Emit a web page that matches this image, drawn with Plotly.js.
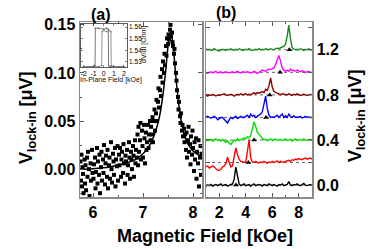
<!DOCTYPE html>
<html><head><meta charset="utf-8">
<script src="https://cdn.plot.ly/plotly-3.0.1.min.js"></script>
<style>html,body{margin:0;padding:0;background:#fff}#c{width:382px;height:249px}</style>
</head><body><div id="c"></div>
<script>
// ---------- Panel (a): scatter data ----------
const fieldX = [
5.75,5.76,5.77,5.78,5.79,5.80,5.81,5.83,5.84,5.85,5.86,5.88,5.89,5.90,5.92,5.93,5.95,5.96,5.98,5.99,
6.01,6.02,6.04,6.05,6.06,6.08,6.09,6.10,6.12,6.13,6.14,6.16,6.17,6.18,6.20,6.21,6.22,6.24,6.25,6.26,
6.28,6.29,6.30,6.32,6.33,6.34,6.36,6.37,6.38,6.40,6.41,6.42,6.44,6.45,6.46,6.48,6.49,
6.50,6.52,6.53,6.54,6.56,6.57,6.58,6.60,6.61,6.62,6.64,6.65,6.66,6.68,6.69,6.70,6.72,6.73,6.74,6.76,
6.77,6.78,6.80,6.81,6.82,6.84,6.85,6.86,6.88,6.89,
6.90,6.91,6.92,6.94,6.95,6.96,6.98,6.99,7.00,7.02,7.03,7.04,7.06,7.07,7.08,7.10,7.11,7.12,7.14,
7.15,7.16,7.18,7.19,7.20,7.22,7.23,7.24,7.26,7.27,7.28,7.30,7.31,7.32,7.34,7.35,7.36,7.38,7.39,7.40,7.42,7.43,7.44,
7.46,7.47,7.48,7.50,7.51,7.52,7.54,7.55,7.56,7.58,7.59,7.60,7.62,7.63,7.64,
7.66,7.67,7.68,7.70,7.71,7.72,7.74,7.75,7.76,7.78,7.79,7.80,7.82,7.83,7.84,
7.86,7.87,7.88,7.90,7.91,7.92,7.94,7.95,7.96,7.98,7.99,8.00,8.02,8.03,8.04,8.06,8.07,8.08,8.10,8.11,8.12,8.14,8.15,8.16,8.17];
const signalY = [
0.008,-0.012,0.015,-0.018,0.002,-0.005,-0.025,0.010,-0.015,0.004,-0.022,0.012,-0.008,0.018,0.000,-0.028,0.006,-0.012,0.020,-0.004,
-0.010,0.005,0.012,-0.020,-0.003,0.022,-0.015,0.008,-0.006,0.015,-0.025,0.002,0.018,-0.012,0.010,-0.004,0.025,-0.016,0.006,0.014,
-0.008,0.020,-0.020,0.004,0.012,-0.010,0.028,0.000,-0.014,0.016,0.008,-0.006,0.022,-0.018,0.010,0.003,0.024,
-0.012,0.015,0.004,0.022,-0.008,0.010,0.018,-0.004,0.026,0.006,-0.015,0.014,0.008,0.020,-0.006,0.004,0.028,0.012,-0.010,0.018,
0.010,0.000,0.024,0.014,-0.008,0.030,0.006,0.020,0.012,0.036,
0.004,0.044,0.018,0.030,0.048,0.010,0.040,0.024,0.012,0.046,0.032,0.006,0.038,0.020,0.028,0.046,0.022,0.036,0.050,
0.030,0.044,0.036,0.054,0.028,0.050,0.062,0.040,0.058,0.072,0.050,0.070,0.084,0.064,0.082,0.096,0.076,0.104,0.090,0.112,0.100,0.120,0.108,
0.128,0.118,0.136,0.130,0.140,0.135,0.145,0.150,0.138,0.142,0.132,0.128,0.120,0.125,0.110,
0.100,0.092,0.082,0.075,0.062,0.070,0.055,0.048,0.058,0.040,0.046,0.034,0.042,0.028,0.036,
0.020,0.038,0.012,0.030,0.044,0.018,0.026,0.005,0.034,0.015,0.040,0.022,-0.002,0.028,0.010,0.032,-0.010,0.018,0.006,0.030,-0.018,0.012,0.024,-0.006,0.016];
const fitX = [5.74,5.9,6.1,6.3,6.5,6.7,6.85,7.0,7.1,7.2,7.3,7.35,7.4,7.45,7.5,7.55,7.6,7.65,7.7,7.75,7.8,7.85,7.9,8.0,8.1,8.18];
const fitY = [0.000,0.000,0.001,0.002,0.004,0.007,0.010,0.016,0.022,0.032,0.048,0.060,0.078,0.100,0.128,0.143,0.130,0.100,0.074,0.054,0.041,0.032,0.026,0.019,0.015,0.013];

// ---------- Inset: hysteresis ----------
const loop1X = [-2,-1.5,-1.0,-0.86,-0.83,-0.5,0,0.3,0.45,0.48,0.6,1.0,1.5,2.0];
const loop1Y = [1.526,1.526,1.526,1.527,1.559,1.559,1.558,1.559,1.558,1.527,1.526,1.526,1.526,1.526];
const loop2X = [-2,-1.5,-1,-0.5,-0.2,-0.17,0.0,0.3,0.6,0.71,0.74,1.0,1.5,2.0];
const loop2Y = [1.526,1.526,1.526,1.526,1.527,1.556,1.557,1.556,1.557,1.556,1.527,1.526,1.526,1.526];

// ---------- Panel (b): offset spectra ----------
const fieldB = [1.0,1.125,1.25,1.375,1.5,1.625,1.75,1.875,
2.0,2.125,2.25,2.375,2.5,2.625,2.75,2.875,
3.0,3.125,3.25,3.375,3.5,3.625,3.75,3.875,
4.0,4.125,4.25,4.375,4.5,4.625,4.75,4.875,
5.0,5.125,5.25,5.375,5.5,5.625,5.75,5.875,
6.0,6.125,6.25,6.375,6.5,6.625,6.75,6.875,
7.0,7.125,7.25,7.375,7.5,7.625,7.75,7.875,
8.0,8.125,8.25,8.375,8.5,8.625,8.75,8.875,9.0];
const specBlack = [-0.01,0.0,-0.005,0.005,-0.01,0.0,0.005,-0.005,
0.0,0.01,-0.005,0.0,0.005,-0.01,0.0,0.005,
0.01,0.05,0.16,0.07,0.01,-0.005,0.0,0.01,
-0.005,0.0,0.005,-0.01,0.0,0.01,-0.005,0.0,
0.005,0.0,-0.01,0.005,0.0,-0.005,0.01,0.0,
-0.005,0.005,0.0,-0.01,0.005,0.0,0.01,-0.005,
0.0,0.005,0.03,0.0,-0.005,0.005,0.0,0.01,
0.0,-0.005,0.005,0.015,0.0,-0.005,0.0,0.005,-0.005];
const specRed = [0.16,0.17,0.15,0.16,0.17,0.16,0.14,0.13,
0.13,0.14,0.16,0.17,0.19,0.25,0.2,0.16,
0.17,0.24,0.33,0.27,0.23,0.21,0.205,0.2,
0.2,0.3,0.4,0.24,0.205,0.2,0.21,0.2,
0.195,0.205,0.2,0.21,0.2,0.195,0.205,0.2,
0.21,0.2,0.205,0.215,0.2,0.21,0.205,0.2,
0.21,0.215,0.22,0.21,0.225,0.22,0.23,0.225,
0.235,0.23,0.225,0.235,0.24,0.23,0.235,0.24,0.23];
const specGreen = [0.39,0.4,0.395,0.405,0.39,0.4,0.41,0.395,
0.4,0.39,0.405,0.39,0.38,0.395,0.37,0.36,
0.38,0.4,0.39,0.41,0.395,0.4,0.41,0.42,
0.41,0.43,0.42,0.44,0.49,0.56,0.52,0.47,
0.45,0.43,0.415,0.4,0.405,0.395,0.4,0.41,
0.395,0.4,0.41,0.395,0.4,0.405,0.395,0.4,
0.41,0.395,0.4,0.405,0.39,0.4,0.41,0.395,
0.4,0.405,0.395,0.41,0.4,0.395,0.405,0.4,0.395];
const specBlue = [0.6,0.61,0.6,0.595,0.6,0.61,0.6,0.58,
0.59,0.6,0.6,0.58,0.56,0.55,0.58,0.6,
0.59,0.6,0.61,0.59,0.6,0.61,0.6,0.6,
0.61,0.62,0.6,0.63,0.61,0.62,0.6,0.61,
0.62,0.63,0.65,0.72,0.79,0.68,0.62,0.6,
0.605,0.6,0.61,0.62,0.6,0.62,0.63,0.6,
0.615,0.6,0.63,0.61,0.6,0.615,0.6,0.605,
0.6,0.61,0.595,0.6,0.61,0.6,0.605,0.6,0.6];
const specDarkRed = [0.8,0.79,0.8,0.795,0.805,0.8,0.79,0.8,
0.795,0.8,0.805,0.81,0.8,0.795,0.8,0.805,
0.8,0.79,0.8,0.805,0.8,0.81,0.8,0.805,
0.81,0.8,0.805,0.8,0.81,0.82,0.81,0.82,
0.815,0.82,0.83,0.82,0.85,0.84,0.88,0.95,
0.87,0.83,0.82,0.815,0.81,0.8,0.81,0.805,
0.805,0.8,0.81,0.8,0.795,0.805,0.8,0.81,
0.8,0.795,0.8,0.805,0.8,0.795,0.8,0.805,0.8];
const specMagenta = [1.0,0.99,1.0,1.005,0.995,1.0,1.01,0.995,
1.0,1.005,0.995,1.0,1.005,1.0,0.995,1.0,
1.005,0.995,1.0,1.01,1.0,0.995,1.005,1.0,
1.0,1.005,1.0,0.995,1.0,1.01,1.0,0.99,
1.0,1.01,1.02,1.015,1.01,1.02,1.03,1.025,
1.03,1.04,1.07,1.12,1.15,1.1,1.04,1.02,
1.01,1.02,1.01,1.03,1.015,1.02,1.01,1.02,
1.01,1.005,1.015,1.01,1.0,1.005,1.01,1.0,1.0];
const specDarkGreen = [1.21,1.2,1.205,1.195,1.2,1.21,1.2,1.195,
1.19,1.2,1.205,1.2,1.195,1.205,1.2,1.21,
1.2,1.195,1.205,1.2,1.21,1.2,1.195,1.2,
1.205,1.2,1.21,1.2,1.195,1.2,1.205,1.2,
1.21,1.2,1.205,1.2,1.21,1.205,1.2,1.21,
1.205,1.2,1.21,1.215,1.21,1.22,1.225,1.23,
1.25,1.32,1.42,1.3,1.22,1.21,1.2,1.205,
1.2,1.21,1.2,1.195,1.205,1.2,1.21,1.2,1.195];
const offsets = [0.0,0.2,0.4,0.6,0.8,1.0,1.2];
const markerField = [3.26,4.2,4.63,5.53,5.81,6.59,7.29];
const specTickVals = [0,0.4,0.8,1.2];
const specTickText = ['0.0','0.4','0.8','1.2'];
const specMinorVals = [0.2,0.6,1.0,1.4];

// ---------- styling ----------
const W = 382, H = 249;
const px = v => v / W, py = v => 1 - v / H;
const FONT = 'Liberation Sans, Arial, sans-serif';
const spectra = [specBlack, specRed, specGreen, specBlue, specDarkRed, specMagenta, specDarkGreen];
const colors = ['#000000','#ff0000','#00e000','#0000ff','#8b0000','#ff00ff','#1b8a1b'];

const traces = [];
traces.push({x: fieldX, y: signalY, xaxis:'x', yaxis:'y', mode:'markers', type:'scatter',
  marker:{symbol:'square', size:4, color:'#000'}});
traces.push({x: fitX, y: fitY, xaxis:'x', yaxis:'y', mode:'lines', type:'scatter',
  line:{color:'#000', width:1.5, shape:'spline', smoothing:0.6}});
traces.push({x: loop1X, y: loop1Y, xaxis:'x3', yaxis:'y3', mode:'lines+markers', type:'scatter',
  line:{color:'#555', width:0.8}, marker:{size:1.5, color:'#555'}});
traces.push({x: loop2X, y: loop2Y, xaxis:'x3', yaxis:'y3', mode:'lines+markers', type:'scatter',
  line:{color:'#777', width:0.8}, marker:{size:1.5, color:'#777'}});
offsets.forEach((o) => {
  traces.push({x:[fieldB[0], fieldB[fieldB.length-1]], y:[o,o], xaxis:'x2', yaxis:'y2', mode:'lines', type:'scatter',
    line:{color:'#666', width:1, dash:'dot'}});
});
spectra.forEach((s,i) => {
  traces.push({x: fieldB, y: s, xaxis:'x2', yaxis:'y2', mode:'lines', type:'scatter',
    line:{color: colors[i], width:1.4}});
});
traces.push({x: markerField, y: offsets, xaxis:'x2', yaxis:'y2', mode:'markers', type:'scatter',
  marker:{symbol:'triangle-up', size:5, color:'#000'}});

const BOLD = {family:FONT, size:16, color:'#000', weight:'bold'};
const frame = {showline:true, linecolor:'#8a8a8a', linewidth:1.5, mirror:'ticks', showgrid:false, zeroline:false,
  ticks:'inside', ticklen:4, tickwidth:1, tickcolor:'#555', tickfont:BOLD};
const insetFrame = {showline:true, linecolor:'#333', linewidth:0.8, mirror:'ticks', showgrid:false, zeroline:false,
  ticks:'inside', ticklen:2, tickwidth:0.6, tickcolor:'#333',
  tickfont:{family:FONT, size:7, color:'#000'}};
const minorTicks = vals => ({tickvals: vals, ticks:'inside', ticklen:2, tickcolor:'#555'});
const ann = (text, x, y, font, extra) => Object.assign({text, x:px(x), y:py(y), xref:'paper', yref:'paper',
  xanchor:'center', yanchor:'middle', showarrow:false, font}, extra || {});
const bigFont = s => ({family:FONT, size:s, color:'#000', weight:'bold'});
const smallFont = {family:FONT, size:7, color:'#111111'};

const layout = {
  width: W, height: H, margin:{l:0,r:0,t:0,b:0}, showlegend:false,
  paper_bgcolor:'#fff', plot_bgcolor:'rgba(0,0,0,0)',
  xaxis: Object.assign({}, frame, {domain:[px(80), px(202)], range:[5.74,8.18], anchor:'y',
    tickvals:[6,7,8], ticktext:['6','7','8'], minor: minorTicks([6.5,7.5])}),
  yaxis: Object.assign({}, frame, {domain:[py(197), py(22)], range:[-0.029,0.153], anchor:'x',
    tickvals:[0,0.05,0.10,0.15], ticktext:['0.00','0.05','0.10','0.15'],
    minor: minorTicks([-0.025,0.025,0.075,0.125])}),
  xaxis2: Object.assign({}, frame, {domain:[px(206), px(312)], range:[1,9], anchor:'y2',
    tickvals:[2,4,6,8], ticktext:['2','4','6','8'], minor: minorTicks([1,3,5,7,9])}),
  yaxis2: Object.assign({}, frame, {domain:[py(197), py(22)], range:[-0.106,1.447], anchor:'x2', side:'right',
    tickvals: specTickVals, ticktext: specTickText,
    minor:{tickvals: specMinorVals, ticks:'inside', ticklen:4, tickcolor:'#555'}}),
  xaxis3: Object.assign({}, insetFrame, {domain:[px(81), px(127)], range:[-2.25,2.3], anchor:'y3',
    tickvals:[-2,-1,0,1,2], ticktext:['-2','-1','0','1','2']}),
  yaxis3: Object.assign({}, insetFrame, {domain:[py(67), py(24)], range:[1.5257,1.5626], anchor:'x3', side:'right',
    tickvals:[1.53,1.54,1.55,1.56], ticktext:['1.53','1.54','1.55','1.56'], tickfont:{family:FONT, size:6.5, color:'#000'}}),
  annotations: [
    ann('<b>(a)</b>', 101, 14, bigFont(16)),
    ann('<b>(b)</b>', 226, 13, bigFont(16)),
    ann('<b>Magnetic Field [kOe]</b>', 205, 236, bigFont(18)),
    ann('<b>V<sub>lock-in</sub> [μV]</b>', 27, 118, bigFont(18), {textangle:-90}),
    ann('<b>V<sub>lock-in</sub> [μV]</b>', 356, 116, bigFont(18), {textangle:-90}),
    ann('In-Plane Field [kOe]', 111, 80, smallFont),
    ann('dV/dI [Ohm]', 144, 45, smallFont, {textangle:-90})
  ]
};
Plotly.newPlot('c', traces, layout, {staticPlot:true, displayModeBar:false});
</script></body></html>
